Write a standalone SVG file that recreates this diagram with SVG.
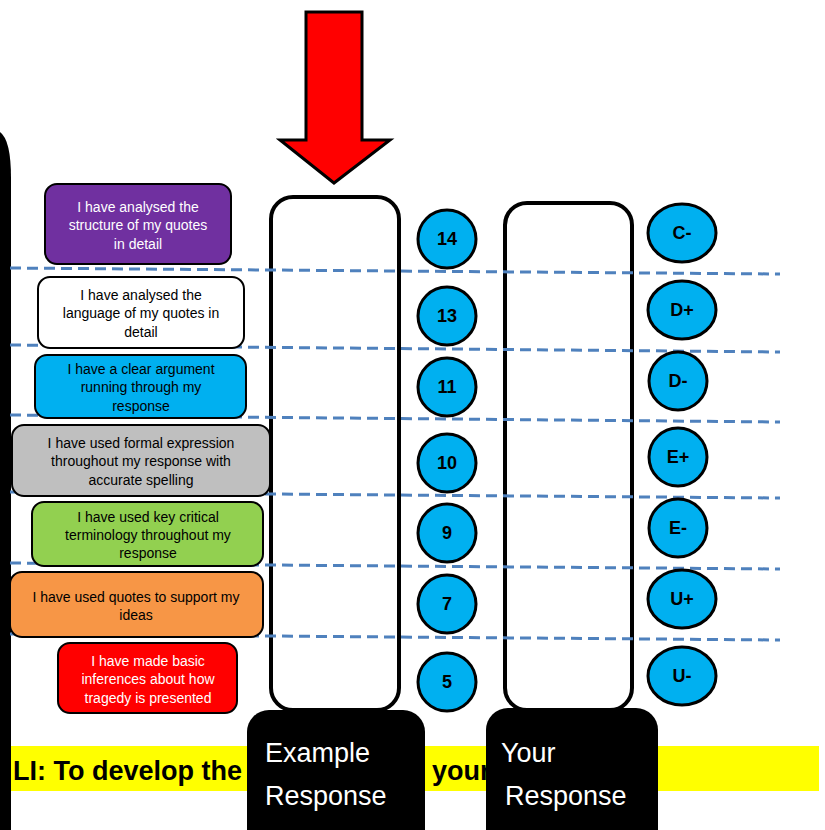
<svg xmlns="http://www.w3.org/2000/svg" width="825" height="830" viewBox="0 0 825 830">
<style>
.col{fill:#fff;stroke:#000;stroke-width:4}
.dash{stroke:#4F81BD;stroke-width:3;stroke-dasharray:11 6;fill:none}
.box{stroke:#000;stroke-width:2}
.bt{font-family:"Liberation Sans",Arial,sans-serif;font-size:14px;text-anchor:middle}
.badge{fill:#00B0F0;stroke:#000;stroke-width:3}
.bn{font-family:"Liberation Sans",Arial,sans-serif;font-size:18px;font-weight:bold;text-anchor:middle;fill:#000}
.lbl{fill:#000}
.lt{font-family:"Liberation Sans",Arial,sans-serif;font-size:27px;fill:#fff}
.li{font-family:"Liberation Sans",Arial,sans-serif;font-size:27px;font-weight:bold;fill:#000}
</style>
<rect width="825" height="830" fill="#fff"/>
<g id="leftbar"><path d="M0,132 Q11,140 11,178 L11,830 L0,830 Z" fill="#000"/></g>
<g id="arrow"><polygon points="306,12 362,12 362,140 390,140 334,183 280,140 306,140" fill="#FF0000" stroke="#000" stroke-width="3" stroke-linejoin="miter"/></g>
<g id="col-example"><rect class="col" x="271" y="197" width="128" height="513" rx="22"/></g>
<g id="col-your"><rect class="col" x="505" y="203" width="127" height="507" rx="22"/></g>
<g id="connectors">
<line class="dash" x1="10" y1="268" x2="780" y2="274"/>
<line class="dash" x1="10" y1="345" x2="780" y2="352"/>
<line class="dash" x1="10" y1="415" x2="780" y2="422"/>
<line class="dash" x1="10" y1="492" x2="780" y2="498"/>
<line class="dash" x1="10" y1="563" x2="780" y2="569"/>
<line class="dash" x1="10" y1="634" x2="780" y2="640"/>
</g>
<g id="box-structure"><rect class="box" x="45" y="184" width="186" height="80" rx="12" fill="#7030A0"/>
<text class="bt" fill="#fff"><tspan x="138" y="212">I have analysed the</tspan><tspan x="138" y="230">structure of my quotes</tspan><tspan x="138" y="249">in detail</tspan></text></g>
<g id="box-language"><rect class="box" x="38" y="277" width="206" height="71" rx="12" fill="#fff"/>
<text class="bt" fill="#000"><tspan x="141" y="300">I have analysed the</tspan><tspan x="141" y="318">language of my quotes in</tspan><tspan x="141" y="337">detail</tspan></text></g>
<g id="box-argument"><rect class="box" x="35" y="355" width="211" height="63" rx="12" fill="#00B0F0"/>
<text class="bt" fill="#000"><tspan x="141" y="374">I have a clear argument</tspan><tspan x="141" y="392">running through my</tspan><tspan x="141" y="411">response</tspan></text></g>
<g id="box-formal"><rect class="box" x="12" y="425" width="258" height="71" rx="12" fill="#BFBFBF"/>
<text class="bt" fill="#000"><tspan x="141" y="448">I have used formal expression</tspan><tspan x="141" y="466">throughout my response with</tspan><tspan x="141" y="485">accurate spelling</tspan></text></g>
<g id="box-terminology"><rect class="box" x="32" y="502" width="231" height="64" rx="12" fill="#92D050"/>
<text class="bt" fill="#000"><tspan x="148" y="522">I have used key critical</tspan><tspan x="148" y="540">terminology throughout my</tspan><tspan x="148" y="558">response</tspan></text></g>
<g id="box-quotes"><rect class="box" x="10" y="572" width="253" height="65" rx="12" fill="#F79646"/>
<text class="bt" fill="#000"><tspan x="136" y="602">I have used quotes to support my</tspan><tspan x="136" y="620">ideas</tspan></text></g>
<g id="box-inferences"><rect class="box" x="58" y="643" width="179" height="70" rx="12" fill="#FF0000"/>
<text class="bt" fill="#fff"><tspan x="148" y="666">I have made basic</tspan><tspan x="148" y="684">inferences about how</tspan><tspan x="148" y="703">tragedy is presented</tspan></text></g>
<g id="score-14"><circle class="badge" cx="447" cy="239" r="29"/><text class="bn" x="447" y="245">14</text></g>
<g id="score-13"><circle class="badge" cx="447" cy="316" r="29"/><text class="bn" x="447" y="322">13</text></g>
<g id="score-11"><circle class="badge" cx="447" cy="387" r="29"/><text class="bn" x="447" y="393">11</text></g>
<g id="score-10"><circle class="badge" cx="447" cy="463" r="29"/><text class="bn" x="447" y="469">10</text></g>
<g id="score-9"><circle class="badge" cx="447" cy="533" r="29"/><text class="bn" x="447" y="539">9</text></g>
<g id="score-7"><circle class="badge" cx="447" cy="604" r="29"/><text class="bn" x="447" y="610">7</text></g>
<g id="score-5"><circle class="badge" cx="447" cy="682" r="29"/><text class="bn" x="447" y="688">5</text></g>
<g id="grade-Cminus"><ellipse class="badge" cx="682" cy="233" rx="34" ry="29"/><text class="bn" x="682" y="239">C-</text></g>
<g id="grade-Dplus"><ellipse class="badge" cx="682" cy="310" rx="34" ry="29"/><text class="bn" x="682" y="316">D+</text></g>
<g id="grade-Dminus"><ellipse class="badge" cx="678" cy="381" rx="29" ry="29"/><text class="bn" x="678" y="387">D-</text></g>
<g id="grade-Eplus"><ellipse class="badge" cx="678" cy="457" rx="29" ry="29"/><text class="bn" x="678" y="463">E+</text></g>
<g id="grade-Eminus"><ellipse class="badge" cx="678" cy="528" rx="29" ry="29"/><text class="bn" x="678" y="534">E-</text></g>
<g id="grade-Uplus"><ellipse class="badge" cx="682" cy="599" rx="34" ry="29"/><text class="bn" x="682" y="605">U+</text></g>
<g id="grade-Uminus"><ellipse class="badge" cx="682" cy="676" rx="34" ry="29"/><text class="bn" x="682" y="682">U-</text></g>
<g id="li-bar"><rect x="11" y="746" width="808" height="45" fill="#FFFF00"/>
<text class="li" x="13" y="780">LI: To develop the</text>
<text class="li" x="432" y="780">your</text></g>
<g id="label-example"><rect class="lbl" x="247" y="710" width="178" height="150" rx="22"/>
<text class="lt"><tspan x="265" y="762">Example</tspan><tspan x="265" y="805">Response</tspan></text></g>
<g id="label-your"><rect class="lbl" x="486" y="708" width="172" height="150" rx="22"/>
<text class="lt"><tspan x="501" y="762">Your</tspan><tspan x="505" y="805">Response</tspan></text></g>
</svg>
